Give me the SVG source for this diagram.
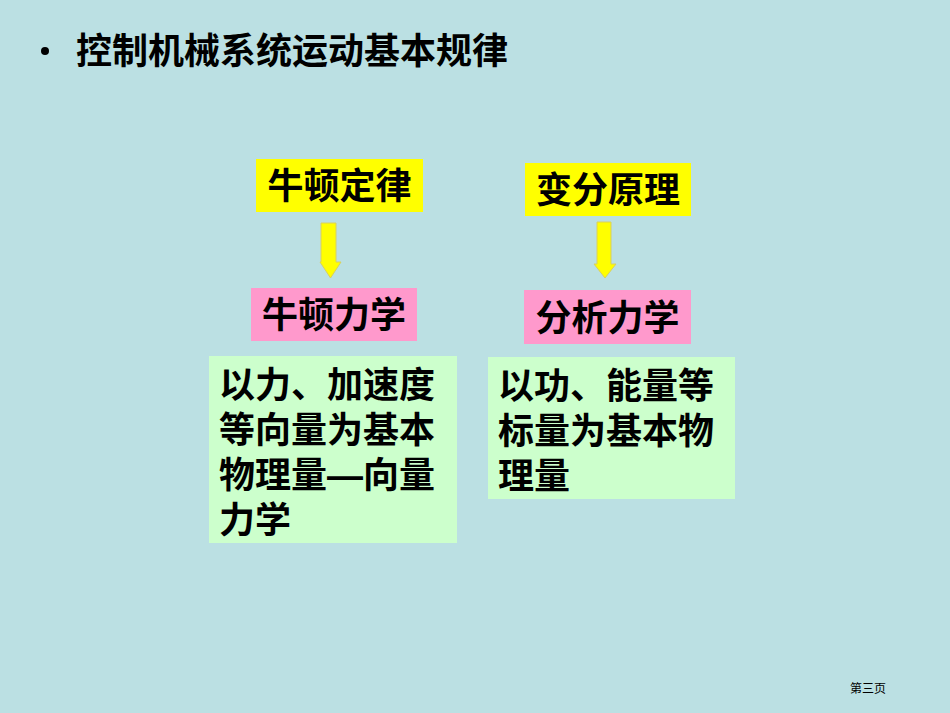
<svg xmlns="http://www.w3.org/2000/svg" width="950" height="713" viewBox="0 0 950 713">
<style>
text{font-family:"Liberation Sans","Noto Sans CJK SC",sans-serif;fill:#000}
.t{font-size:36px;font-weight:bold}
.arrow{fill:#FFFF00;stroke:#D8D060;stroke-width:1}
</style>
<rect width="950" height="713" fill="#BBE0E3"/>
<g id="title"><circle cx="45" cy="51" r="4" fill="#000"/><text class="t" x="76" y="64" font-size="37">控制机械系统运动基本规律</text></g>
<g id="n1"><rect x="256" y="159" width="167" height="53" fill="#FFFF00"/><text class="t" x="339.5" y="199" text-anchor="middle">牛顿定律</text></g>
<g id="n2"><rect x="525" y="163" width="166" height="53" fill="#FFFF00"/><text class="t" x="608" y="203" text-anchor="middle">变分原理</text></g>
<g id="n3"><rect x="251" y="288" width="166" height="53" fill="#FF99CC"/><text class="t" x="334" y="328" text-anchor="middle">牛顿力学</text></g>
<g id="n4"><rect x="524" y="290" width="167" height="54" fill="#FF99CC"/><text class="t" x="607.5" y="331" text-anchor="middle">分析力学</text></g>
<g id="n5"><rect x="209" y="356" width="248" height="187" fill="#CCFFCC"/><text class="t" x="219" y="398">以力、加速度</text><text class="t" x="219" y="443">等向量为基本</text><text class="t" x="219" y="488">物理量—向量</text><text class="t" x="219" y="533">力学</text></g>
<g id="n6"><rect x="488" y="357" width="247" height="142" fill="#CCFFCC"/><text class="t" x="498" y="399">以功、能量等</text><text class="t" x="498" y="444">标量为基本物</text><text class="t" x="498" y="489">理量</text></g>
<g id="connectors">
<polygon class="arrow" points="321,223 336,223 336,262 341,262 330.5,278 320,262 321,262"/>
<polygon class="arrow" points="597,222 611,222 611,264 616,264 605,278 594,264 597,264"/>
</g>
<text x="868" y="693" font-size="12" text-anchor="middle">第三页</text>
</svg>
